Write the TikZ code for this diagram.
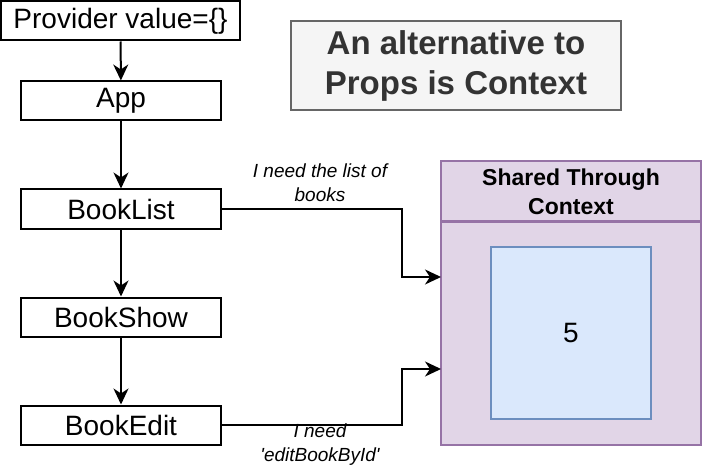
\documentclass[tikz,border=0pt]{standalone}
\usepackage{fontspec}
\setmainfont{Liberation Sans}
\usetikzlibrary{arrows.meta}
\definecolor{ctxfill}{HTML}{E1D5E7}
\definecolor{ctxline}{HTML}{9673A6}
\definecolor{valfill}{HTML}{DAE8FC}
\definecolor{valline}{HTML}{6C8EBF}
\definecolor{titlefill}{HTML}{F5F5F5}
\definecolor{titleline}{HTML}{666666}
\definecolor{titletext}{HTML}{333333}
\tikzset{
  comp/.style={draw, line width=2pt, inner sep=0pt, minimum width=200pt, minimum height=39pt,
    font=\fontsize{28}{33}\selectfont},
  link/.style={line width=2pt, -{Stealth[length=16pt, width=15pt, inset=5pt]}},
  note/.style={align=center, font=\fontsize{19}{24}\selectfont\itshape},
}

\begin{document}
\begin{tikzpicture}[x=1pt, y=-1pt]
      \useasboundingbox (0,0) rectangle (702,468);

      \node [comp, minimum width=239pt] (prov) at (120.5,21) {Provider value=\{\}};
      \node [comp] (app)      at (121,101) {App};
      \node [comp] (booklist) at (121,209) {BookList};
      \node [comp] (bookshow) at (121,317) {BookShow};
      \node [comp] (bookedit) at (121,425) {BookEdit};
      \draw [link] (prov) to (app);
      \draw [link] (app) to (booklist);
      \draw [link] (booklist) to (bookshow);
      \draw [link] (bookshow) to (bookedit);

      \node [draw=titleline, fill=titlefill, line width=2pt, minimum width=330pt, minimum height=89pt,
        align=center, text=titletext, font=\fontsize{33}{40}\selectfont\bfseries] (title) at (456,65.5)
        {An alternative to\\Props is Context};

      % context container
      \node [draw=ctxline, fill=ctxfill, line width=2pt, minimum width=260pt, minimum height=283pt] (ctx) at (571,303) {};
      \node [draw=ctxline, line width=2pt, minimum width=260pt, minimum height=60pt, align=center,
        font=\fontsize{23}{29}\selectfont\bfseries] (head) at (571,191.5) {Shared Through\\Context};
      \node [draw=valline, fill=valfill, line width=2pt, minimum width=160pt, minimum height=172pt,
        font=\fontsize{28}{33}\selectfont] (val) at (571,333) {5};

      \coordinate (in1) at (441,277);
      \coordinate (in2) at (441,369);
      \draw [link] (booklist.east) -- ++(180,0) |- (in1);
      \draw [link] (bookedit.east) -- ++(180,0) |- (in2);
      \node [note] (need1) at (320,183) {I need the list of\\books};
      \node [note] (need2) at (320,445) {I need\\\textquotesingle editBookById\textquotesingle};
\end{tikzpicture}
\end{document}
